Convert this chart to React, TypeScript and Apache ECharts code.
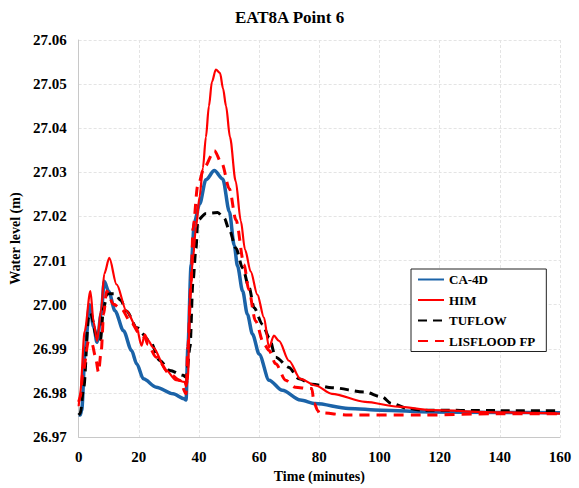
import React, { useEffect, useRef } from "react";
import * as echarts from "echarts";

const TITLE = "EAT8A Point 6";
const X_NAME = "Time (minutes)";
const Y_NAME = "Water level (m)";
const SERIES_NAMES = ["CA-4D", "HIM", "TUFLOW", "LISFLOOD FP"];

const caTime = [0, 0.5, 1, 2.2, 3.6, 5, 6.1, 7.5, 8.5, 10, 12.1, 14.9, 17.6, 19.3, 21.5, 25.8, 31.4, 35, 35.7, 36.3, 37.4, 38.5, 40.2, 42.3, 45.1, 47.9, 50.1, 51.7, 52.8, 54.5, 56.1, 57.8, 60, 63.3, 67.7, 73.7, 78.7, 89.7, 100.7, 117, 140, 160];
const caLevel = [26.975, 26.975, 26.976, 26.99, 27.0, 26.995, 26.9915, 26.998, 27.0053, 27.003, 26.9986, 26.9941, 26.9896, 26.9866, 26.9832, 26.9813, 26.9798, 26.9787, 26.9784, 26.9903, 27.0091, 27.0188, 27.0228, 27.0283, 27.0304, 27.0285, 27.0211, 27.0135, 27.0088, 27.0031, 26.9978, 26.9933, 26.9888, 26.9829, 26.9806, 26.9784, 26.9776, 26.9765, 26.9761, 26.9757, 26.9756, 26.9755];

const himTime = [0, 0.5, 2, 3.9, 5, 6.1, 7.5, 8.5, 10.2, 12.6, 15.9, 19.3, 20.9, 22, 23, 24.8, 29.1, 32.4, 35.2, 35.7, 36.3, 37, 38, 39, 40.2, 41.3, 42.3, 43.3, 44.3, 45.6, 47, 48, 49, 50.3, 52.2, 53.9, 55.3, 57.2, 59.4, 61.6, 63.3, 64.9, 66.6, 69.9, 73.7, 78.7, 84.2, 95.2, 106.2, 117.2, 140, 160];
const himLevel = [26.977, 26.98, 26.994, 27.0031, 26.996, 26.9918, 26.999, 27.007, 27.0106, 27.0046, 26.9986, 26.9948, 26.9907, 26.9933, 26.992, 26.9903, 26.9851, 26.9829, 26.9825, 26.9815, 26.9829, 27.0016, 27.0105, 27.0175, 27.0245, 27.031, 27.038, 27.045, 27.0505, 27.0533, 27.0525, 27.049, 27.045, 27.038, 27.028, 27.019, 27.0125, 27.0075, 27.0023, 26.9971, 26.9903, 26.993, 26.9918, 26.9873, 26.9832, 26.9817, 26.9798, 26.978, 26.9769, 26.9761, 26.9756, 26.9753];

const tufTime = [0, 0.5, 1.7, 3.3, 3.9, 6.1, 7.2, 8.3, 9.5, 12, 14, 15.9, 19.3, 23.7, 27, 30.3, 34.7, 35.8, 37, 38, 39, 39.6, 42.3, 46.2, 48.4, 50.1, 52.3, 54.5, 56.7, 58.3, 61.1, 63.3, 65.5, 69.9, 73.2, 77.6, 84.2, 95.2, 100.8, 104, 109.5, 113.9, 140, 160];
const tufLevel = [26.975, 26.9753, 26.9813, 26.997, 26.9982, 26.9926, 26.9918, 26.9993, 27.0025, 27.0025, 27.001, 26.9986, 26.9948, 26.9918, 26.9873, 26.9851, 26.984, 26.9836, 26.9903, 27.0053, 27.0128, 27.0192, 27.0207, 27.0209, 27.0196, 27.0169, 27.0128, 27.0083, 27.0038, 26.9993, 26.9956, 26.9926, 26.9881, 26.9858, 26.9832, 26.982, 26.9812, 26.9802, 26.9791, 26.9776, 26.9765, 26.9761, 26.976, 26.976];

const lisTime = [0, 0.5, 1.5, 3.3, 4.5, 5.5, 6.6, 7.5, 8.3, 9.3, 11.6, 14.3, 17.1, 20.4, 22, 23, 25.8, 30.3, 33.6, 35.7, 36.3, 37.4, 38, 39.6, 41.8, 45.1, 47.6, 50.1, 52.3, 55, 56.5, 58.8, 61.6, 63.3, 65.5, 68.8, 72, 76.5, 77.5, 78.3, 79.5, 80, 89.7, 113.9, 140, 160];
const lisLevel = [26.978, 26.979, 26.985, 26.9918, 26.991, 26.9885, 26.9847, 26.9895, 26.9978, 27.0031, 27.0001, 26.999, 26.9963, 26.9933, 26.9926, 26.991, 26.9881, 26.9843, 26.9829, 26.9798, 26.9903, 27.0053, 27.0173, 27.027, 27.0312, 27.0349, 27.032, 27.0263, 27.0192, 27.0091, 27.0035, 26.9963, 26.9911, 26.9896, 26.9866, 26.9829, 26.9813, 26.981, 26.981, 26.9776, 26.976, 26.9755, 26.975, 26.975, 26.9753, 26.9753];

const zip = (t: number[], v: number[]) => t.map((x, i) => [x, v[i]]);

const FONT = "'Liberation Serif', 'Times New Roman', serif";

export default function App() {
  const ref = useRef<HTMLDivElement>(null);
  useEffect(() => {
    if (!ref.current) return;
    const chart = echarts.init(ref.current, undefined, { renderer: "svg" });
    const axisLabel = { fontFamily: FONT, fontWeight: "bold" as const, fontSize: 15, color: "#000" };
    const splitLine = { show: true, lineStyle: { color: "#e4e4e4", type: [3, 2] as any, width: 1 } };
    chart.setOption({
      animation: false,
      backgroundColor: "#fff",
      title: {
        text: TITLE,
        left: "center",
        top: 4,
        textStyle: { fontFamily: FONT, fontWeight: "bold", fontSize: 17, color: "#000" },
      },
      grid: { left: 75, right: 19, top: 40, bottom: 47.5, containLabel: false },
      xAxis: {
        type: "value",
        min: 0,
        max: 160,
        interval: 20,
        name: X_NAME,
        nameLocation: "middle",
        nameGap: 31,
        nameTextStyle: { fontFamily: FONT, fontWeight: "bold", fontSize: 14, color: "#000" },
        axisLine: { show: true, lineStyle: { color: "#c8c8c8", width: 1 } },
        axisTick: { show: false },
        axisLabel: { ...axisLabel, margin: 12 },
        splitLine,
      },
      yAxis: {
        type: "value",
        min: 26.97,
        max: 27.06,
        interval: 0.01,
        name: Y_NAME,
        nameLocation: "middle",
        nameGap: 45,
        nameRotate: 90,
        nameTextStyle: { fontFamily: FONT, fontWeight: "bold", fontSize: 14, color: "#000" },
        axisLine: { show: true, lineStyle: { color: "#c8c8c8", width: 1 } },
        axisTick: { show: false },
        axisLabel: { ...axisLabel, margin: 12, formatter: (v: number) => v.toFixed(2) },
        splitLine,
      },
      legend: {
        left: 411,
        top: 269,
        orient: "vertical",
        backgroundColor: "#fff",
        borderColor: "#222",
        borderWidth: 1,
        borderRadius: 0,
        padding: [4, 11, 4, 6],
        itemWidth: 26,
        itemHeight: 14,
        itemGap: 7.5,
        itemStyle: { opacity: 0 },
        textStyle: { fontFamily: FONT, fontWeight: "bold", fontSize: 13, color: "#000" },
        data: SERIES_NAMES,
      },
      series: [
        {
          name: SERIES_NAMES[0],
          type: "line",
          data: zip(caTime, caLevel),
          symbol: "none",
          smooth: 0.3,
          smoothMonotone: "x",
          z: 2,
          lineStyle: { color: "#1b63a8", width: 3.5 },
          itemStyle: { color: "#1b63a8" },
        },
        {
          name: SERIES_NAMES[1],
          type: "line",
          data: zip(himTime, himLevel),
          symbol: "none",
          smooth: 0.3,
          smoothMonotone: "x",
          z: 4,
          lineStyle: { color: "#ff0000", width: 2.2 },
          itemStyle: { color: "#ff0000" },
        },
        {
          name: SERIES_NAMES[2],
          type: "line",
          data: zip(tufTime, tufLevel),
          symbol: "none",
          smooth: 0.3,
          smoothMonotone: "x",
          z: 3,
          lineStyle: { color: "#000", width: 3, type: [9, 6] },
          itemStyle: { color: "#000" },
        },
        {
          name: SERIES_NAMES[3],
          type: "line",
          data: zip(lisTime, lisLevel),
          symbol: "none",
          smooth: 0.3,
          smoothMonotone: "x",
          z: 5,
          lineStyle: { color: "#ff0000", width: 3, type: [10, 7] },
          itemStyle: { color: "#ff0000" },
        },
      ],
    });
    return () => chart.dispose();
  }, []);
  return <div ref={ref} style={{ position: "fixed", left: 0, top: 0, width: 579, height: 488 }} />;
}
